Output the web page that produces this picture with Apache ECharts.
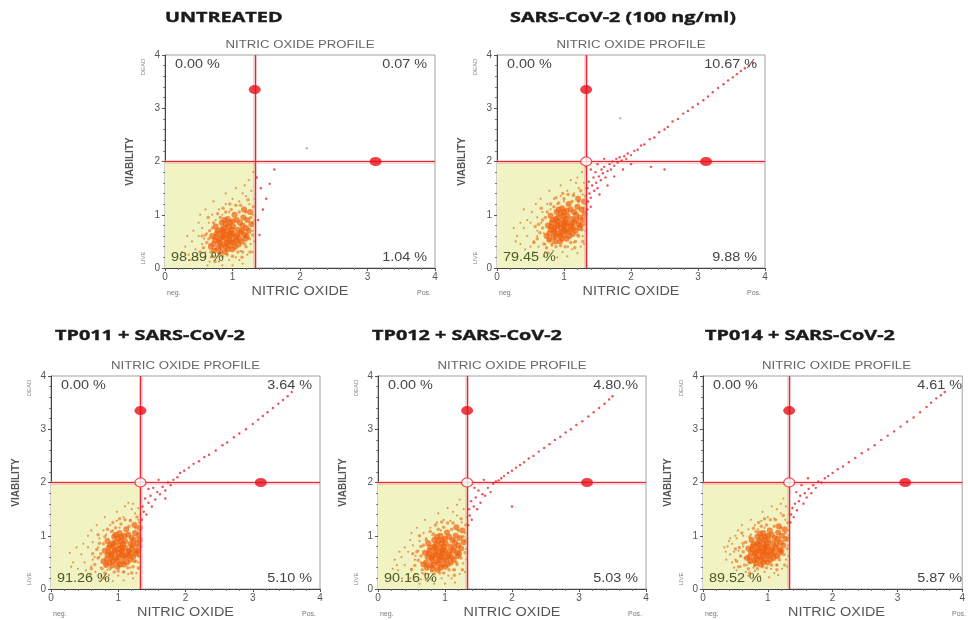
<!DOCTYPE html>
<html><head><meta charset="utf-8">
<script src="https://cdn.jsdelivr.net/npm/echarts@6/dist/echarts.min.js"></script>
<style>html,body{margin:0;padding:0;background:#fff}#c{width:968px;height:620px}</style>
</head><body><div id="c"></div>
<script>
// ---------- DATA ----------
const titles = ['UNTREATED','SARS-CoV-2 (100 ng/ml)','TP011 + SARS-CoV-2','TP012 + SARS-CoV-2','TP014 + SARS-CoV-2'];
const quadrantPct = [
  ['0.00 %','0.07 %','98.89 %','1.04 %'],
  ['0.00 %','10.67 %','79.45 %','9.88 %'],
  ['0.00 %','3.64 %','91.26 %','5.10 %'],
  ['0.00 %','4.80.%','90.16 %','5.03 %'],
  ['0.00 %','4.61 %','89.52 %','5.87 %']
];
const gateX = 1.33, gateY = 2;
const markerTop = [1.33, 3.35];
const markerRight = [3.12, 2];
const showCenter = [false, true, true, true, true];
const xTicks = [0,1,2,3,4];
const yTicks = [0,1,2,3,4];

const core1 = [[0.95,0.6],[0.9,0.55],[1.0,0.65],[0.85,0.62],[1.05,0.58],[0.92,0.7],[0.98,0.5],[0.88,0.45],[1.08,0.72],[0.8,0.5],[1.12,0.66],[0.94,0.78],[0.86,0.68],[1.02,0.48],[0.76,0.58],[1.15,0.8],[0.96,0.42],[0.83,0.4],[1.1,0.55],[0.9,0.82],[1.0,0.88],[0.78,0.7],[1.18,0.62],[0.72,0.45],[1.06,0.9],[0.93,0.35],[0.87,0.75],[1.2,0.75],[1.04,0.4],[0.82,0.55],[0.99,0.72],[0.91,0.63],[1.13,0.5],[0.79,0.38],[1.22,0.9],[0.7,0.6],[1.07,0.62],[0.95,0.52],[0.84,0.85],[1.16,0.95],[0.89,0.3],[1.01,0.78],[0.74,0.52],[1.24,0.7],[0.97,0.66],[0.81,0.47],[1.09,0.44],[0.93,0.92],[1.19,0.55],[0.77,0.65],[1.03,1.0],[0.86,0.58],[1.11,0.85],[0.68,0.4],[1.26,1.05],[0.92,0.48],[1.0,0.35],[0.84,0.72],[1.14,0.7],[0.96,0.85],[0.75,0.78],[1.21,0.6],[0.9,0.4],[1.05,0.52],[0.82,0.3],[1.28,0.82],[0.98,0.6],[0.88,0.9],[1.17,1.1],[0.73,0.33]];
const mid1 = [[0.7,0.75],[0.65,0.55],[0.75,0.35],[0.68,0.3],[1.2,0.4],[1.25,0.55],[1.27,0.95],[1.2,1.05],[1.1,1.05],[0.98,1.1],[0.82,0.95],[0.72,0.85],[0.62,0.48],[0.6,0.62],[0.7,0.22],[0.85,0.22],[1.0,0.22],[1.15,0.3],[1.3,0.62],[1.3,0.85],[1.12,1.18],[0.9,1.05],[0.78,1.02],[0.66,0.7],[0.57,0.38],[0.8,0.28],[0.92,0.25],[1.08,0.3],[1.18,0.45],[1.31,1.15],[1.23,1.28],[1.05,1.18],[0.86,1.12],[0.64,0.95],[0.55,0.6],[0.52,0.3],[0.96,1.2],[1.14,0.2],[1.26,0.3],[0.74,0.12]];
const halo1 = [[0.55,0.45],[0.6,0.3],[0.5,0.6],[0.45,0.35],[0.65,0.85],[0.58,0.2],[0.4,0.5],[0.62,0.65],[0.35,0.25],[0.7,1.0],[0.48,0.15],[0.66,0.12],[0.8,1.1],[0.9,1.2],[1.0,1.3],[1.1,1.25],[1.2,1.35],[1.25,1.2],[1.3,1.0],[1.32,0.5],[1.3,0.3],[1.28,1.45],[1.15,1.4],[0.95,1.05],[0.85,1.0],[0.75,0.9],[1.22,0.25],[1.1,0.15],[0.95,0.15],[0.8,0.12],[1.05,0.2],[0.55,0.75],[0.42,0.7],[0.3,0.4],[0.52,1.0],[0.6,1.1],[0.68,0.2],[0.38,0.15],[1.3,0.7],[1.27,0.45],[1.33,1.3],[1.18,1.55],[1.05,1.5],[0.72,1.25],[0.58,0.55],[0.47,0.22],[0.63,0.05],[0.85,0.05],[1.0,0.05],[1.15,0.08],[0.25,0.3],[0.33,0.6],[0.9,1.4],[1.24,1.65],[1.31,1.8],[0.66,0.45],[0.5,0.85],[1.12,0.32],[0.78,0.22],[1.33,0.9]];
const diag1 = [[1.38,0.9],[1.4,0.62],[1.45,1.1],[1.5,1.3],[1.42,1.5],[1.55,1.58],[1.62,1.85],[1.36,1.7]];
const stray1 = [[2.1,2.25]];

const core2 = [[1.0,0.8],[0.95,0.75],[1.05,0.85],[0.9,0.82],[1.1,0.78],[0.98,0.9],[1.02,0.7],[0.92,0.65],[1.12,0.92],[0.85,0.7],[1.15,0.86],[0.99,0.98],[0.9,0.88],[1.06,0.68],[0.81,0.78],[1.18,1.0],[1.0,0.62],[0.88,0.6],[1.14,0.75],[0.95,1.02],[1.04,1.08],[0.83,0.9],[1.22,0.82],[0.78,0.65],[1.1,1.1],[0.97,0.55],[0.91,0.95],[1.24,0.95],[1.08,0.6],[0.86,0.75],[1.03,0.92],[0.96,0.83],[1.17,0.7],[0.84,0.58],[1.26,1.1],[0.76,0.8],[1.11,0.82],[1.0,0.72],[0.89,1.05],[1.2,1.15],[0.94,0.5],[1.05,0.98],[0.8,0.72],[1.28,0.9],[1.01,0.86],[0.86,0.67],[1.13,0.64],[0.97,1.12],[1.23,0.75],[0.82,0.85],[1.07,1.2],[0.9,0.78],[1.15,1.05],[0.74,0.6],[1.3,1.25],[0.96,0.68],[1.04,0.55],[0.88,0.92],[1.18,0.9],[1.0,1.05],[0.8,0.98],[1.25,0.8],[0.94,0.6],[1.09,0.72],[0.87,0.5],[1.31,1.02],[1.02,0.8],[0.92,1.1],[1.21,1.3],[0.78,0.53]];
const mid2 = [[0.72,0.95],[0.68,0.75],[0.78,0.52],[0.7,0.45],[1.22,0.6],[1.27,0.72],[1.29,1.12],[1.22,1.25],[1.12,1.25],[1.0,1.3],[0.85,1.15],[0.75,1.05],[0.64,0.66],[0.62,0.82],[0.74,0.38],[0.88,0.4],[1.02,0.4],[1.17,0.5],[1.31,0.82],[1.31,1.05],[1.14,1.36],[0.92,1.22],[0.8,1.2],[0.68,0.9],[0.6,0.55],[0.82,0.45],[0.95,0.42],[1.1,0.48],[1.2,0.62],[1.32,1.35],[1.25,1.45],[1.06,1.38],[0.88,1.32],[0.66,1.12],[0.57,0.78],[0.55,0.48],[0.98,1.4],[1.16,0.38],[1.28,0.5],[0.76,0.28]];
const halo2 = [[0.6,0.7],[0.55,0.5],[0.5,0.85],[0.45,0.6],[0.68,1.05],[0.62,0.4],[0.4,0.75],[0.66,0.85],[0.35,0.45],[0.75,1.2],[0.55,0.3],[0.72,0.3],[0.85,1.3],[0.95,1.35],[1.05,1.45],[1.15,1.4],[1.22,1.5],[1.28,1.38],[1.32,1.2],[1.32,0.7],[1.3,0.45],[1.3,1.6],[1.18,1.6],[1.0,1.25],[0.9,1.2],[0.8,1.1],[1.25,0.4],[1.12,0.35],[0.98,0.3],[0.84,0.32],[1.06,0.4],[0.6,0.95],[0.45,0.9],[0.3,0.6],[0.58,1.2],[0.65,1.3],[0.72,0.45],[0.42,0.35],[1.32,0.95],[1.28,0.6],[1.33,1.5],[1.2,1.7],[1.1,1.65],[0.78,1.45],[0.6,0.6],[0.5,0.4],[0.7,0.22],[0.9,0.2],[1.05,0.22],[1.2,0.28],[0.28,0.5],[0.35,0.85],[0.95,1.55],[1.27,1.8],[1.32,1.9],[0.7,0.65],[0.52,1.05],[1.15,0.48],[0.82,0.42],[1.33,1.1],[0.25,0.75],[0.4,1.1]];
const diag2 = [[1.35,1.1],[1.36,1.25],[1.38,1.4],[1.35,1.5],[1.4,1.32],[1.42,1.55],[1.37,1.62],[1.45,1.45],[1.44,1.7],[1.48,1.6],[1.5,1.5],[1.52,1.72],[1.47,1.8],[1.55,1.65],[1.58,1.78],[1.6,1.9],[1.56,1.85],[1.62,1.7],[1.65,1.82],[1.68,1.95],[1.7,1.85],[1.72,2.0],[1.75,1.92],[1.78,2.05],[1.8,1.98],[1.83,2.08],[1.86,2.02],[1.9,2.1],[1.93,2.05],[1.95,2.15],[2.0,2.12],[2.05,2.2],[2.1,2.22],[2.15,2.3],[2.2,2.32],[2.28,2.42],[2.35,2.45],[2.42,2.55],[2.5,2.6],[2.55,2.65],[2.62,2.75],[2.7,2.8],[2.78,2.9],[2.85,2.95],[2.92,3.02],[3.0,3.08],[3.08,3.15],[3.15,3.22],[3.22,3.3],[3.3,3.38],[3.38,3.45],[3.45,3.52],[3.52,3.58],[3.58,3.64],[3.64,3.7],[3.7,3.75],[3.76,3.8],[3.82,3.85],[1.4,1.15],[1.53,1.38],[1.65,1.55],[1.75,1.72],[1.88,1.85],[2.0,1.95],[1.6,2.05],[1.5,1.95],[1.4,1.85],[2.3,1.9],[2.5,1.85]];
const stray2 = [[1.84,2.81]];

const core3 = [[1.05,0.72],[1.0,0.68],[1.1,0.78],[0.95,0.74],[1.15,0.7],[1.02,0.82],[1.08,0.62],[0.97,0.58],[1.18,0.85],[0.9,0.63],[1.2,0.76],[1.04,0.9],[0.93,0.8],[1.12,0.6],[0.86,0.7],[1.23,0.92],[1.06,0.52],[0.92,0.52],[1.19,0.66],[1.0,0.95],[1.09,1.0],[0.88,0.82],[1.26,0.72],[0.83,0.56],[1.15,1.02],[1.02,0.46],[0.96,0.88],[1.28,0.86],[1.13,0.5],[0.9,0.66],[1.07,0.85],[1.01,0.75],[1.22,0.6],[0.87,0.5],[1.3,1.0],[0.8,0.72],[1.16,0.72],[1.05,0.64],[0.94,0.98],[1.25,1.05],[0.99,0.42],[1.1,0.9],[0.84,0.64],[1.31,0.8],[1.06,0.78],[0.9,0.58],[1.18,0.55],[1.02,1.05],[1.27,0.66],[0.86,0.78],[1.12,1.12],[0.95,0.7],[1.2,0.96],[0.78,0.52],[1.32,1.15],[1.0,0.6],[1.08,0.46],[0.92,0.86],[1.22,0.82],[1.04,0.98],[0.84,0.9],[1.29,0.7],[0.98,0.52],[1.14,0.64],[0.91,0.44],[1.32,0.92],[1.06,0.7],[0.96,1.02],[1.24,1.2],[0.82,0.45]];
const mid3 = [[0.78,0.85],[0.74,0.66],[0.82,0.45],[0.76,0.38],[1.26,0.52],[1.3,0.62],[1.31,1.05],[1.26,1.15],[1.16,1.18],[1.04,1.22],[0.9,1.08],[0.8,0.98],[0.7,0.58],[0.68,0.74],[0.8,0.3],[0.94,0.32],[1.08,0.32],[1.22,0.42],[1.32,0.72],[1.33,0.95],[1.18,1.28],[0.96,1.15],[0.84,1.12],[0.72,0.86],[0.65,0.46],[0.88,0.38],[1.0,0.34],[1.14,0.4],[1.24,0.52],[1.32,1.25],[1.28,1.35],[1.1,1.3],[0.92,1.25],[0.7,1.02],[0.62,0.66],[0.6,0.38],[1.02,1.32],[1.2,0.3],[1.3,0.4],[0.8,0.2]];
const halo3 = [[0.65,0.6],[0.6,0.42],[0.55,0.78],[0.5,0.5],[0.72,0.95],[0.66,0.32],[0.45,0.65],[0.7,0.78],[0.4,0.38],[0.78,1.1],[0.58,0.25],[0.75,0.25],[0.88,1.2],[0.98,1.28],[1.08,1.35],[1.18,1.3],[1.25,1.42],[1.3,1.3],[1.33,1.1],[1.32,0.6],[1.3,0.38],[1.3,1.52],[1.2,1.5],[1.02,1.15],[0.92,1.1],[0.82,1.02],[1.27,0.3],[1.15,0.28],[1.0,0.25],[0.86,0.26],[1.08,0.32],[0.62,0.88],[0.48,0.85],[0.33,0.5],[0.6,1.1],[0.68,1.2],[0.74,0.4],[0.45,0.28],[1.33,0.85],[1.3,0.5],[1.33,1.4],[1.22,1.6],[1.1,1.55],[0.8,1.35],[0.62,0.55],[0.52,0.35],[0.72,0.15],[0.92,0.15],[1.08,0.16],[1.22,0.2],[0.3,0.42],[0.38,0.78],[0.98,1.45],[1.15,1.62],[0.72,0.6],[0.55,1.0],[1.18,0.4],[0.84,0.36],[1.33,1.0],[0.28,0.68]];
const diag3 = [[1.35,1.3],[1.38,1.45],[1.36,1.55],[1.42,1.4],[1.45,1.62],[1.4,1.7],[1.5,1.55],[1.48,1.75],[1.55,1.68],[1.58,1.82],[1.52,1.9],[1.62,1.78],[1.66,1.92],[1.7,1.85],[1.74,2.0],[1.78,1.95],[1.82,2.05],[1.88,2.1],[1.92,2.18],[1.98,2.22],[2.05,2.28],[2.12,2.35],[2.2,2.4],[2.28,2.48],[2.35,2.52],[2.45,2.6],[2.55,2.7],[2.62,2.75],[2.72,2.85],[2.8,2.92],[2.9,3.0],[3.0,3.1],[3.08,3.18],[3.15,3.25],[3.22,3.32],[3.3,3.4],[3.38,3.48],[3.45,3.55],[3.52,3.62],[3.58,3.7],[1.6,2.05],[1.45,1.88],[1.7,1.7]];
const stray3 = [];

const core4 = [[0.95,0.68],[0.9,0.62],[1.0,0.72],[0.85,0.7],[1.05,0.64],[0.93,0.78],[0.98,0.56],[0.88,0.52],[1.08,0.8],[0.8,0.58],[1.12,0.72],[0.95,0.86],[0.86,0.76],[1.02,0.54],[0.76,0.66],[1.15,0.88],[0.96,0.46],[0.83,0.46],[1.1,0.6],[0.9,0.9],[1.0,0.95],[0.78,0.78],[1.18,0.68],[0.72,0.5],[1.06,0.98],[0.93,0.4],[0.87,0.84],[1.2,0.82],[1.04,0.46],[0.82,0.62],[0.99,0.8],[0.91,0.7],[1.13,0.55],[0.79,0.44],[1.22,0.96],[0.7,0.68],[1.07,0.7],[0.95,0.6],[0.84,0.92],[1.16,1.0],[0.89,0.36],[1.01,0.86],[0.74,0.6],[1.24,0.76],[0.97,0.74],[0.81,0.54],[1.09,0.5],[0.93,1.0],[1.19,0.62],[0.77,0.72],[1.03,1.06],[0.86,0.64],[1.11,0.92],[0.68,0.46],[1.26,1.1],[0.92,0.56],[1.0,0.42],[0.84,0.8],[1.14,0.78],[0.96,0.92],[0.75,0.86],[1.21,0.66],[0.9,0.48],[1.05,0.6],[0.82,0.38],[1.28,0.88],[0.98,0.66],[0.88,0.98],[1.17,1.16],[0.73,0.4]];
const mid4 = [[0.68,0.82],[0.64,0.62],[0.74,0.42],[0.66,0.36],[1.18,0.46],[1.24,0.58],[1.27,0.98],[1.2,1.1],[1.1,1.12],[0.98,1.16],[0.82,1.02],[0.72,0.92],[0.6,0.54],[0.58,0.7],[0.7,0.28],[0.84,0.28],[0.98,0.3],[1.14,0.36],[1.3,0.68],[1.3,0.9],[1.12,1.24],[0.9,1.12],[0.78,1.08],[0.64,0.8],[0.55,0.44],[0.8,0.34],[0.92,0.3],[1.06,0.36],[1.17,0.5],[1.31,1.2],[1.24,1.32],[1.04,1.24],[0.86,1.2],[0.62,1.0],[0.52,0.66],[0.5,0.36],[0.95,1.26],[1.14,0.26],[1.26,0.36],[0.72,0.18]];
const halo4 = [[0.55,0.55],[0.5,0.38],[0.45,0.7],[0.4,0.45],[0.62,0.9],[0.56,0.28],[0.35,0.6],[0.6,0.72],[0.3,0.35],[0.68,1.05],[0.48,0.2],[0.64,0.18],[0.78,1.15],[0.88,1.25],[0.98,1.3],[1.08,1.28],[1.18,1.38],[1.25,1.25],[1.3,1.05],[1.32,0.55],[1.3,0.32],[1.28,1.5],[1.12,1.45],[0.94,1.1],[0.83,1.05],[0.72,0.95],[1.22,0.28],[1.1,0.2],[0.95,0.2],[0.8,0.18],[1.05,0.25],[0.52,0.82],[0.4,0.78],[0.28,0.45],[0.5,1.05],[0.58,1.15],[0.66,0.3],[0.36,0.2],[1.31,0.75],[1.27,0.48],[1.33,1.35],[1.18,1.58],[1.04,1.52],[0.7,1.3],[0.56,0.62],[0.45,0.28],[0.62,0.1],[0.84,0.1],[1.0,0.1],[1.15,0.12],[0.22,0.38],[0.32,0.7],[0.9,1.42],[1.22,1.68],[0.64,0.5],[0.48,0.92],[1.12,0.36],[0.76,0.28],[1.33,0.95],[0.25,0.55]];
const diag4 = [[1.35,1.2],[1.37,1.38],[1.36,1.5],[1.4,1.3],[1.43,1.55],[1.39,1.65],[1.48,1.5],[1.46,1.72],[1.53,1.62],[1.56,1.78],[1.5,1.85],[1.6,1.75],[1.64,1.9],[1.68,1.82],[1.72,1.98],[1.76,2.02],[1.8,2.04],[1.84,2.08],[1.88,2.12],[1.94,2.18],[2.0,2.22],[2.06,2.28],[2.12,2.33],[2.18,2.38],[2.25,2.45],[2.32,2.5],[2.4,2.58],[2.48,2.65],[2.56,2.72],[2.64,2.8],[2.72,2.86],[2.8,2.94],[2.88,3.0],[2.96,3.08],[3.05,3.15],[3.14,3.24],[3.22,3.32],[3.3,3.4],[3.38,3.48],[3.45,3.56],[3.5,3.62],[1.58,2.05],[1.44,1.9],[2.0,1.55]];
const stray4 = [];

const core5 = [[0.95,0.75],[0.9,0.7],[1.0,0.8],[0.85,0.76],[1.05,0.72],[0.93,0.85],[0.98,0.64],[0.88,0.6],[1.08,0.86],[0.8,0.66],[1.12,0.78],[0.95,0.92],[0.86,0.82],[1.02,0.62],[0.76,0.74],[1.15,0.94],[0.96,0.55],[0.83,0.56],[1.1,0.68],[0.9,0.96],[1.0,1.0],[0.78,0.84],[1.18,0.74],[0.72,0.6],[1.06,1.02],[0.93,0.5],[0.87,0.9],[1.2,0.88],[1.04,0.55],[0.82,0.7],[0.99,0.86],[0.91,0.78],[1.13,0.62],[0.79,0.54],[1.22,1.0],[0.7,0.76],[1.07,0.76],[0.95,0.68],[0.84,0.98],[1.16,1.06],[0.89,0.46],[1.01,0.92],[0.74,0.68],[1.24,0.82],[0.97,0.8],[0.81,0.62],[1.09,0.58],[0.93,1.05],[1.19,0.68],[0.77,0.8],[1.03,1.1],[0.86,0.72],[1.11,0.96],[0.68,0.58],[1.26,1.12],[0.92,0.64],[1.0,0.5],[0.84,0.86],[1.14,0.84],[0.96,0.98],[0.75,0.92],[1.21,0.72],[0.9,0.56],[1.05,0.66],[0.82,0.48],[1.28,0.94],[0.98,0.72],[0.88,1.04],[1.17,1.18],[0.73,0.52]];
const mid5 = [[0.66,0.88],[0.62,0.7],[0.72,0.5],[0.64,0.45],[1.18,0.55],[1.25,0.65],[1.27,1.05],[1.2,1.15],[1.1,1.18],[0.98,1.2],[0.82,1.08],[0.72,0.98],[0.58,0.62],[0.56,0.78],[0.7,0.38],[0.84,0.38],[0.98,0.4],[1.14,0.45],[1.3,0.76],[1.3,0.95],[1.12,1.3],[0.9,1.18],[0.78,1.14],[0.62,0.86],[0.52,0.52],[0.8,0.44],[0.92,0.42],[1.06,0.45],[1.17,0.6],[1.31,1.25],[1.24,1.38],[1.04,1.3],[0.86,1.25],[0.6,1.05],[0.5,0.75],[0.55,0.42],[0.95,1.32],[1.14,0.36],[1.26,0.45],[0.72,0.3]];
const halo5 = [[0.55,0.72],[0.5,0.55],[0.45,0.85],[0.42,0.65],[0.62,1.0],[0.58,0.42],[0.38,0.8],[0.62,0.8],[0.36,0.55],[0.7,1.12],[0.52,0.35],[0.66,0.32],[0.8,1.2],[0.9,1.28],[1.0,1.35],[1.1,1.32],[1.2,1.42],[1.27,1.3],[1.31,1.1],[1.32,0.62],[1.3,0.42],[1.28,1.55],[1.14,1.5],[0.95,1.15],[0.85,1.12],[0.74,1.02],[1.22,0.38],[1.1,0.3],[0.95,0.32],[0.8,0.34],[1.05,0.38],[0.52,0.95],[0.42,0.95],[0.48,0.4],[0.54,1.1],[0.6,1.2],[0.68,0.45],[0.45,0.5],[1.32,0.82],[1.28,0.55],[1.33,1.4],[1.2,1.6],[1.06,1.55],[0.74,1.3],[0.58,0.62],[0.48,0.7],[0.7,0.25],[0.88,0.24],[1.02,0.22],[1.16,0.26],[0.35,0.7],[0.4,0.9],[0.92,1.45],[1.24,1.7],[0.64,0.58],[0.5,1.0],[1.14,0.45],[0.78,0.4],[1.33,1.0],[0.33,0.78]];
const diag5 = [[1.35,1.25],[1.36,1.4],[1.38,1.52],[1.4,1.35],[1.42,1.6],[1.45,1.48],[1.48,1.65],[1.5,1.75],[1.55,1.6],[1.57,1.8],[1.6,1.72],[1.63,1.88],[1.67,1.8],[1.7,1.95],[1.74,1.9],[1.78,2.02],[1.83,2.0],[1.88,2.08],[1.93,2.12],[2.0,2.18],[2.08,2.25],[2.16,2.3],[2.25,2.38],[2.35,2.46],[2.45,2.55],[2.55,2.62],[2.65,2.7],[2.75,2.8],[2.85,2.88],[2.95,2.96],[3.05,3.05],[3.15,3.14],[3.25,3.22],[3.35,3.32],[3.45,3.42],[3.52,3.5],[3.6,3.58],[3.67,3.64],[3.73,3.7],[1.52,1.95],[1.62,2.08],[1.44,1.82]];
const stray5 = [];

const cores = [core1, core2, core3, core4, core5];
const mids = [mid1, mid2, mid3, mid4, mid5];
const halos = [halo1, halo2, halo3, halo4, halo5];
const diags = [diag1, diag2, diag3, diag4, diag5];
const strays = [stray1, stray2, stray3, stray4, stray5];

// ---------- LAYOUT ----------
const boxes = [
  {left:165, top:55, width:270, height:213, tx:165, ty:18},
  {left:497, top:55, width:268, height:213, tx:510, ty:18},
  {left:51,  top:376, width:269, height:213, tx:55, ty:336},
  {left:378, top:376, width:268, height:213, tx:372, ty:336},
  {left:703, top:376, width:267, height:213, tx:705, ty:336}
];
const RED = '#e8262e';
const SX = 1.32; // horizontal stretch of the source image
const grid = [], xAxis = [], yAxis = [], series = [], graphic = [];
const axisFont = {color:'#555', fontSize:10, fontFamily:'Liberation Sans, Arial, sans-serif'};
const LS = '"Liberation Sans", Arial, sans-serif';

boxes.forEach((b, i) => {
  grid.push({left:b.left, top:b.top, width:b.width, height:b.height, show:true, borderColor:'#a0a0a0', borderWidth:1, backgroundColor:'transparent'});
  xAxis.push({type:'value', gridIndex:i, min:xTicks[0], max:xTicks[xTicks.length-1], interval:1,
    axisLine:{show:true, onZero:false, lineStyle:{color:'#444', width:1}},
    axisTick:{show:true, length:3, lineStyle:{color:'#555'}},
    minorTick:{show:true, splitNumber:5, length:2, lineStyle:{color:'#777'}},
    splitLine:{show:false},
    axisLabel:Object.assign({margin:4}, axisFont)});
  yAxis.push({type:'value', gridIndex:i, min:yTicks[0], max:yTicks[yTicks.length-1], interval:1,
    axisLine:{show:true, onZero:false, lineStyle:{color:'#444', width:1}},
    axisTick:{show:true, length:3, lineStyle:{color:'#555'}},
    minorTick:{show:true, splitNumber:5, length:2, lineStyle:{color:'#777'}},
    splitLine:{show:false},
    axisLabel:Object.assign({margin:5}, axisFont),
    name:'VIABILITY', nameLocation:'middle', nameGap:30, nameRotate:90,
    nameTextStyle:{color:'#555', fontSize:10, fontWeight:'bold', fontFamily:LS}});

  // gate area + lines
  series.push({type:'scatter', xAxisIndex:i, yAxisIndex:i, data:[], z:1, silent:true,
    markArea:{silent:true, itemStyle:{color:'#f1f3c2'}, data:[[{coord:[0,0]},{coord:[gateX,gateY]}]]}});
  series.push({type:'scatter', xAxisIndex:i, yAxisIndex:i, data:[], z:2, silent:true,
    markLine:{silent:true, symbol:'none', label:{show:false}, animation:false,
      lineStyle:{color:'rgba(242,150,160,0.4)', width:4, type:'solid'},
      data:[{xAxis:gateX},{yAxis:gateY}]}});
  series.push({type:'scatter', xAxisIndex:i, yAxisIndex:i, data:[], z:4, silent:true,
    markLine:{silent:true, symbol:'none', label:{show:false}, animation:false,
      lineStyle:{color:RED, width:1.2, type:'solid'},
      data:[{xAxis:gateX},{yAxis:gateY}]}});
  // cells
  series.push({type:'scatter', xAxisIndex:i, yAxisIndex:i, data:halos[i], z:3, symbolSize:2.2,
    itemStyle:{color:'rgba(215,115,30,0.85)'}});
  series.push({type:'scatter', xAxisIndex:i, yAxisIndex:i, data:mids[i], z:3, symbolSize:3.5,
    itemStyle:{color:'rgba(236,112,30,0.8)'}});
  series.push({type:'scatter', xAxisIndex:i, yAxisIndex:i, data:cores[i], z:3, symbolSize:6,
    itemStyle:{color:'rgba(240,96,14,0.88)'}});
  series.push({type:'scatter', xAxisIndex:i, yAxisIndex:i, data:diags[i], z:5, symbolSize:2.4,
    itemStyle:{color:'#e3262c'}});
  series.push({type:'scatter', xAxisIndex:i, yAxisIndex:i, data:strays[i], z:5, symbolSize:2.5,
    itemStyle:{color:'#aaa'}});
  // gate handles
  series.push({type:'scatter', xAxisIndex:i, yAxisIndex:i, data:[markerTop, markerRight], z:6, symbolSize:[12,9],
    itemStyle:{color:'#e8101c'}});
  if (showCenter[i]) {
    series.push({type:'scatter', xAxisIndex:i, yAxisIndex:i, data:[[gateX, gateY]], z:6, symbolSize:[11,9],
      itemStyle:{color:'#fff', borderColor:RED, borderWidth:1.2}});
  }

  const R = b.left + b.width, B = b.top + b.height;
  const pf = '12px ' + LS;
  graphic.push(
    {type:'text', x:b.tx, y:b.ty, scaleX:SX, style:{text:titles[i], font:'bold 15px "Open Sans", sans-serif', fill:'#1b1b1b', stroke:'#1b1b1b', lineWidth:0.4, textVerticalAlign:'middle'}},
    {type:'text', x:b.left + b.width/2, y:b.top - 10, scaleX:SX, style:{text:'NITRIC OXIDE PROFILE', font:'10px ' + LS, fill:'#666', textAlign:'center', textVerticalAlign:'middle'}},
    {type:'text', x:b.left + b.width/2, y:B + 24, scaleX:1.2, style:{text:'NITRIC OXIDE', font:'12px ' + LS, fill:'#555', textAlign:'center', textVerticalAlign:'middle'}},
    {type:'text', x:b.left + 10, y:b.top + 10, z:10, scaleX:1.2, style:{text:quadrantPct[i][0], font:pf, fill:'#444', textVerticalAlign:'middle'}},
    {type:'text', x:R - 8, y:b.top + 10, z:10, scaleX:1.2, style:{text:quadrantPct[i][1], font:pf, fill:'#444', textAlign:'right', textVerticalAlign:'middle'}},
    {type:'text', x:b.left + 6, y:B - 10, z:10, scaleX:1.2, style:{text:quadrantPct[i][2], font:pf, fill:'#4b5a2a', textVerticalAlign:'middle'}},
    {type:'text', x:R - 8, y:B - 10, z:10, scaleX:1.2, style:{text:quadrantPct[i][3], font:pf, fill:'#444', textAlign:'right', textVerticalAlign:'middle'}},
    {type:'text', x:b.left + 2, y:B + 25, style:{text:'neg.', font:'7px ' + LS, fill:'#777', textVerticalAlign:'middle'}},
    {type:'text', x:R - 4, y:B + 25, style:{text:'Pos.', font:'7px ' + LS, fill:'#777', textAlign:'right', textVerticalAlign:'middle'}},
    {type:'text', x:b.left - 22, y:b.top + 12, rotation:Math.PI/2, style:{text:'DEAD', font:'6px ' + LS, fill:'#888', textAlign:'center', textVerticalAlign:'middle'}},
    {type:'text', x:b.left - 22, y:B - 10, rotation:Math.PI/2, style:{text:'LIVE', font:'6px ' + LS, fill:'#888', textAlign:'center', textVerticalAlign:'middle'}}
  );
});

const chart = echarts.init(document.getElementById('c'), null, {renderer:'canvas'});
chart.setOption({animation:false, backgroundColor:'#fff', grid, xAxis, yAxis, series, graphic});
</script></body></html>
